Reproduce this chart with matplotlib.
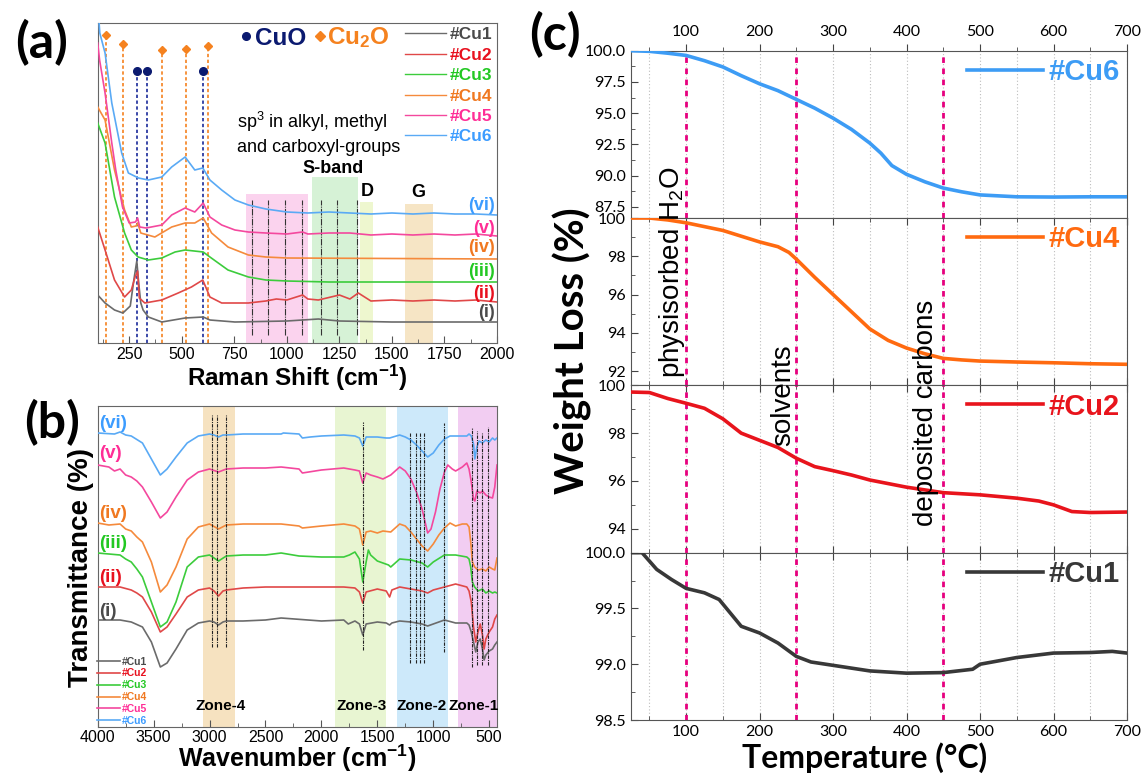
import matplotlib
matplotlib.use('Agg')
import matplotlib.pyplot as plt
from matplotlib.ticker import MultipleLocator, FormatStrFormatter
from matplotlib.font_manager import FontProperties

plt.rcParams['font.family'] = ['Liberation Sans', 'DejaVu Sans']
plt.rcParams['mathtext.fontset'] = 'custom'
plt.rcParams['mathtext.rm'] = 'Liberation Sans'
plt.rcParams['mathtext.bf'] = 'Liberation Sans:bold'
plt.rcParams['mathtext.it'] = 'Liberation Sans:italic'

# ---------------- Panel (a): Raman ----------------
sample_names = ['#Cu1', '#Cu2', '#Cu3', '#Cu4', '#Cu5', '#Cu6']
roman_labels = ['(i)', '(ii)', '(iii)', '(iv)', '(v)', '(vi)']

raman_cu1_x = [100, 135, 180, 220, 255, 272, 286, 295, 305, 316, 341, 405, 516, 602, 634, 753, 1000, 1150, 1250, 1500, 2000]
raman_cu1_y = [48, 40, 33, 30, 37, 63, 82, 60, 40, 33, 26, 21, 25, 26, 23, 21, 22, 24, 22, 21, 21]

raman_cu2_x = [100, 135, 180, 228, 260, 278, 290, 298, 324, 405, 483, 546, 600, 634, 690, 817, 900, 950, 1000, 1075, 1100,
               1150, 1250, 1300, 1340, 1400, 1500, 1600, 1700, 1800, 1900, 2000]
raman_cu2_y = [116, 93, 63, 46, 53, 66, 72, 45, 40, 43, 50, 56, 63, 46, 40, 40, 42, 44, 43, 48, 44,
               43, 48, 44, 50, 42, 43, 42, 43, 42, 43, 41]

raman_cu3_x = [100, 135, 180, 228, 260, 292, 341, 405, 468, 516, 602, 634, 720, 817, 900, 1000, 1200, 2000]
raman_cu3_y = [220, 200, 146, 110, 93, 86, 83, 85, 91, 93, 91, 86, 73, 66, 63, 62, 61, 61]

raman_cu4_x = [100, 135, 180, 228, 260, 282, 290, 305, 372, 452, 516, 562, 602, 642, 720, 817, 900, 1000, 1500, 2000]
raman_cu4_y = [236, 223, 173, 133, 116, 117, 120, 110, 106, 116, 120, 120, 125, 110, 96, 88, 86, 85, 84.5, 84]

raman_cu5_x = [100, 109, 135, 167, 186, 218, 250, 280, 290, 300, 330, 405, 452, 516, 562, 602, 634, 690, 753, 817, 900,
               1000, 1075, 1100, 1200, 1300, 1400, 1500, 1600, 1700, 1800, 1900, 2000]
raman_cu5_y = [300, 283, 250, 200, 173, 136, 120, 121, 125, 116, 115, 118, 128, 135, 131, 140, 126, 118, 113, 111, 110,
               109, 111, 109, 110, 110, 108, 109, 108, 109, 108, 109, 107]

raman_cu6_x = [100, 110, 135, 167, 214, 246, 294, 341, 405, 452, 516, 562, 600, 634, 690, 753, 817, 900, 1000, 1100, 1200,
               1300, 1400, 1500, 1600, 1700, 1800, 1900, 2000]
raman_cu6_y = [340, 310, 290, 240, 190, 170, 165, 163, 166, 176, 186, 173, 175, 163, 153, 143, 138, 134, 131, 130, 131,
               130, 129, 130, 129, 130, 129, 129, 128]

cu2o_peaks = [140, 219, 405, 519, 623]
cu2o_marker_y = [308, 299, 293, 294, 297]
cuo_peaks = [288, 333, 600]
cuo_marker_y = [272, 272, 272]
sp3_lines = [833, 909, 991, 1071, 1161, 1237, 1332]
raman_bands = [(804, 1102, 149, '#fbd3ee'), (1118, 1340, 166, '#d6f2d6'),
               (1348, 1411, 141, '#eef7cf'), (1562, 1696, 139, '#f6e5c5')]

# ---------------- Panel (b): FTIR ----------------
ftir_cu6_x = [4000, 3850, 3800, 3750, 3700, 3600, 3520, 3440, 3380, 3300, 3200, 3100, 3000, 2960, 2920, 2880, 2850, 2700,
              2500, 2360, 2340, 2200, 2170, 2100, 2000, 1800, 1700, 1660, 1630, 1600, 1500, 1420, 1390, 1300, 1250, 1200,
              1150, 1100, 1050, 1000, 950, 900, 850, 800, 700, 680, 660, 640, 628, 610, 590, 560, 530, 500, 470, 450, 430]
ftir_cu6_y = [294, 293, 295, 292, 291, 284, 268, 252, 258, 270, 284, 291, 293, 292, 290, 292, 292, 293,
              293, 293, 294, 293, 289, 290, 291, 292, 291, 289, 281, 290, 290, 289, 289, 292, 290, 287,
              282, 276, 270, 274, 282, 288, 291, 291, 291, 293, 291, 283, 268, 280, 286, 284, 287, 285, 289, 287, 289]

ftir_cu5_x = [4000, 3900, 3850, 3800, 3750, 3700, 3650, 3600, 3520, 3440, 3380, 3300, 3200, 3100, 3000, 2920, 2850, 2700,
              2500, 2360, 2200, 2170, 2000, 1800, 1700, 1660, 1630, 1600, 1560, 1500, 1450, 1380, 1300, 1250, 1200, 1150,
              1100, 1050, 1020, 980, 940, 900, 870, 830, 800, 740, 700, 680, 660, 640, 628, 610, 580, 560, 530, 500, 470,
              450, 430]
ftir_cu5_y = [262, 260, 256, 258, 252, 250, 246, 240, 225, 209, 215, 230, 247, 255, 258, 255, 258, 259,
              259, 260, 258, 254, 257, 259, 257, 256, 244, 254, 252, 250, 248, 252, 260, 256, 248, 235,
              218, 194, 198, 215, 238, 255, 262, 258, 256, 260, 264, 258, 245, 228, 226, 236, 234, 236, 232, 230, 229,
              240, 262]

ftir_cu4_x = [4000, 3900, 3800, 3750, 3700, 3650, 3600, 3520, 3440, 3380, 3300, 3200, 3100, 3000, 2920, 2850, 2700, 2500,
              2360, 2200, 2170, 2000, 1800, 1700, 1660, 1630, 1600, 1560, 1500, 1450, 1380, 1300, 1250, 1200, 1150, 1100,
              1050, 1000, 950, 900, 850, 800, 740, 700, 680, 665, 650, 630, 600, 560, 530, 500, 470, 450, 430]
ftir_cu4_y = [204, 202, 203, 198, 196, 190, 185, 165, 135, 142, 160, 188, 200, 203, 198, 202, 203, 203,
              203, 201, 199, 201, 203, 201, 198, 182, 195, 196, 194, 196, 195, 203, 201, 195, 188, 181,
              176, 183, 192, 199, 204, 201, 203, 203, 200, 185, 165, 160, 157, 158, 156, 160, 158, 157, 169]

ftir_cu3_x = [4000, 3900, 3800, 3750, 3700, 3650, 3600, 3520, 3440, 3380, 3300, 3200, 3100, 3000, 2920, 2850, 2700, 2500,
              2360, 2200, 2000, 1800, 1750, 1700, 1660, 1630, 1600, 1580, 1560, 1500, 1450, 1400, 1380, 1300, 1200, 1100,
              1050, 1000, 900, 800, 700, 680, 665, 650, 630, 600, 560, 530, 500, 470, 450, 430]
ftir_cu3_y = [174, 173, 172, 168, 165, 158, 150, 125, 100, 105, 125, 160, 170, 172, 166, 171, 172, 172,
              174, 171, 170, 170, 172, 175, 168, 145, 165, 177, 172, 166, 164, 162, 160, 168, 167, 164,
              160, 165, 172, 172, 170, 168, 160, 145, 140, 136, 138, 134, 136, 134, 135, 134]

ftir_cu2_x = [4000, 3800, 3700, 3650, 3600, 3520, 3440, 3380, 3300, 3200, 3100, 3000, 2960, 2920, 2880, 2850, 2700, 2500,
              2360, 2000, 1800, 1700, 1660, 1630, 1600, 1500, 1420, 1390, 1370, 1300, 1200, 1100, 1050, 1000, 900, 800,
              700, 680, 660, 640, 620, 600, 580, 560, 545, 530, 500, 470, 450, 430]
ftir_cu2_y = [140, 140, 137, 134, 130, 115, 95, 100, 113, 130, 137, 139, 136, 131, 136, 137, 139, 140,
              140, 140, 140, 139, 135, 124, 135, 138, 136, 130, 137, 140, 138, 136, 134, 137, 140, 143,
              140, 136, 125, 100, 85, 95, 103, 92, 78, 88, 95, 100, 108, 112]

ftir_cu1_x = [4000, 3800, 3700, 3600, 3520, 3440, 3380, 3300, 3200, 3100, 3000, 2960, 2920, 2880, 2850, 2700, 2500, 2360,
              2000, 1800, 1760, 1720, 1700, 1660, 1630, 1600, 1500, 1420, 1390, 1370, 1300, 1200, 1100, 1050, 1000, 900,
              800, 700, 680, 660, 640, 620, 600, 580, 560, 545, 530, 500, 470, 450, 430]
ftir_cu1_y = [107, 107, 105, 100, 85, 60, 64, 78, 97, 104, 106, 105, 102, 105, 106, 106, 107, 109,
              106, 107, 103, 105, 106, 103, 92, 103, 105, 104, 102, 104, 106, 105, 103, 101, 103, 107,
              104, 104, 102, 95, 85, 75, 85, 88, 78, 67, 72, 76, 78, 82, 85]

ftir_zones = [('Zone-4', 3063, 2776, '#f6e2c0'), ('Zone-3', 1874, 1423, '#e8f5d2'),
              ('Zone-2', 1322, 872, '#cde9fa'), ('Zone-1', 783, 430, '#f2cdf2')]
zone_label_x = [2905, 1640, 1100, 640]
ftir_lines_x = [2974, 2929, 2854, 1630, 1209, 1155, 1119, 1081, 902, 657, 612, 568, 509]
ftir_lines_lo = [80, 80, 80, 77, 64, 64, 64, 64, 75, 60, 62, 62, 62]
ftir_lines_hi = [312, 312, 312, 305, 295, 295, 295, 295, 304, 300, 296, 294, 300]

# ---------------- Panel (c): TGA ----------------
tga_cu6_T = [25, 50, 75, 100, 125, 150, 175, 200, 225, 250, 275, 300, 325, 350, 365, 380, 400, 425, 450, 475, 500, 550, 600, 650, 700]
tga_cu6_W = [100.0, 99.95, 99.8, 99.62, 99.2, 98.7, 98.0, 97.35, 96.8, 96.1, 95.4, 94.6, 93.7, 92.6, 91.8, 90.8, 90.1,
             89.5, 89.0, 88.7, 88.45, 88.3, 88.28, 88.3, 88.3]
tga_cu4_T = [25, 50, 75, 100, 125, 150, 175, 200, 225, 240, 250, 275, 300, 325, 350, 375, 400, 425, 450, 475, 500, 550, 600, 650, 700]
tga_cu4_W = [100.0, 100.0, 99.9, 99.75, 99.55, 99.35, 99.05, 98.75, 98.5, 98.2, 97.85, 96.9, 96.0, 95.1, 94.2, 93.6,
             93.2, 92.9, 92.66, 92.58, 92.52, 92.47, 92.43, 92.38, 92.35]
tga_cu2_T = [25, 50, 75, 100, 125, 150, 175, 200, 225, 250, 275, 300, 325, 350, 400, 450, 500, 550, 580, 600, 625, 650, 700]
tga_cu2_W = [99.72, 99.7, 99.45, 99.25, 99.04, 98.6, 98.0, 97.7, 97.4, 96.95, 96.6, 96.43, 96.25, 96.04, 95.74, 95.51,
             95.42, 95.28, 95.16, 95.0, 94.72, 94.68, 94.7]
tga_cu1_T = [25, 40, 60, 80, 100, 125, 145, 160, 175, 200, 225, 250, 270, 300, 350, 400, 450, 490, 500, 550, 600, 650, 680, 700]
tga_cu1_W = [100.0, 100.0, 99.85, 99.76, 99.68, 99.64, 99.58, 99.46, 99.34, 99.28, 99.19, 99.07, 99.02, 98.99, 98.94,
             98.92, 98.925, 98.955, 99.0, 99.06, 99.1, 99.105, 99.115, 99.1]
tga_event_T = [100, 250, 450]
tga_event_labels = ['physisorbed H$_2$O', 'solvents', 'deposited carbons']

# ---------------- styling ----------------
line_cols = ['#6b6b6b', '#e04848', '#3ccc3c', '#f58a3c', '#f4489e', '#5aaaf5']
text_cols = ['#4a4a4a', '#e8101e', '#22c822', '#f07820', '#ff2d96', '#3c9cff']

W, H = 1141, 775
fig = plt.figure(figsize=(W / 100, H / 100), dpi=100)


def px_rect(l, t, r, b):
    return [l / W, 1 - b / H, (r - l) / W, (b - t) / H]


# ===== Panel (a) =====
axA = fig.add_axes(px_rect(97.7, 23, 497, 343))
axA.set_xlim(100, 2000)
axA.set_ylim(0, 320)
for x0, x1, top, c in raman_bands:
    axA.fill_between([x0, x1], 0, top, color=c, lw=0, zorder=0)
axA.vlines(sp3_lines, 8, 143, colors='#333333', lw=0.8, linestyles=(0, (6, 1, 1, 1)), zorder=1)
for xp, yp in zip(cu2o_peaks, cu2o_marker_y):
    axA.plot([xp, xp], [0, yp], color='#f5821f', lw=1.2, ls=(0, (2, 1.5)), zorder=2)
    axA.plot([xp], [yp], marker='D', color='#f5821f', ms=4.5, zorder=5)
for xp, yp in zip(cuo_peaks, cuo_marker_y):
    axA.plot([xp, xp], [0, yp], color='#1a2a9a', lw=1.2, ls=(0, (2, 1.5)), zorder=2)
    axA.plot([xp], [yp], marker='o', color='#0b1a70', ms=5.5, zorder=5)

raman_x = [raman_cu1_x, raman_cu2_x, raman_cu3_x, raman_cu4_x, raman_cu5_x, raman_cu6_x]
raman_y = [raman_cu1_y, raman_cu2_y, raman_cu3_y, raman_cu4_y, raman_cu5_y, raman_cu6_y]
handlesA = []
for xs, ys, c in zip(raman_x, raman_y, line_cols):
    h, = axA.plot(xs, ys, color=c, lw=1.2, zorder=3)
    handlesA.append(h)
legA = axA.legend(handlesA, sample_names, loc='upper right', frameon=False,
                  prop=FontProperties(family='Liberation Sans', weight='bold', size=12.5),
                  labelcolor=text_cols, handlelength=2.35, handletextpad=0.25, labelspacing=0.3,
                  borderpad=0.1, borderaxespad=0.15)
for lh in legA.legend_handles:
    lh.set_linewidth(1.0)

roman_y_a = [0.094, 0.156, 0.222, 0.297, 0.359, 0.431]
for lab, yy, c in zip(roman_labels, roman_y_a, text_cols):
    axA.text(0.995, yy, lab, transform=axA.transAxes, ha='right', va='center', color=c,
             fontsize=13, fontweight='bold')

axA.plot([0.371], [0.959], marker='o', color='#0b1a70', ms=5.5, transform=axA.transAxes, clip_on=False)
axA.text(0.395, 0.953, 'CuO', transform=axA.transAxes, color='#0b1a70', fontsize=17.5, fontweight='bold', va='center')
axA.plot([0.557], [0.959], marker='D', color='#f5821f', ms=5.5, transform=axA.transAxes, clip_on=False)
axA.text(0.574, 0.953, r'Cu$_\mathbf{2}$O', transform=axA.transAxes, color='#f5821f', fontsize=17.5,
         fontweight='bold', va='center')
axA.text(0.349, 0.69, r'sp$^3$ in alkyl, methyl', transform=axA.transAxes, fontsize=13, va='center')
axA.text(0.349, 0.61, 'and carboxyl-groups', transform=axA.transAxes, fontsize=13, va='center')
axA.text(0.589, 0.544, 'S-band', transform=axA.transAxes, fontsize=13, fontweight='bold', ha='center', va='center')
axA.text(0.675, 0.472, 'D', transform=axA.transAxes, fontsize=13, fontweight='bold', ha='center', va='center')
axA.text(0.803, 0.469, 'G', transform=axA.transAxes, fontsize=13, fontweight='bold', ha='center', va='center')

axA.set_yticks([])
axA.xaxis.set_major_locator(MultipleLocator(250))
axA.xaxis.set_minor_locator(MultipleLocator(125))
axA.tick_params(axis='x', which='both', direction='in', labelsize=11.5, color='#555555', pad=3)
axA.tick_params(axis='x', which='major', length=5)
axA.tick_params(axis='x', which='minor', length=3)
axA.set_xticks([250, 500, 750, 1000, 1250, 1500, 1750, 2000])
for s in axA.spines.values():
    s.set_color('#666666')

fig.text(0.2603, 1 - 386 / H, r'Raman Shift (cm$^\mathbf{-1}$)', ha='center', va='baseline', fontsize=17.5,
         fontweight='bold')

# ===== Panel (b) =====
axB = fig.add_axes(px_rect(97.7, 406, 497, 727))
axB.set_xlim(4000, 430)
axB.set_ylim(0, 321)
for (name, x0, x1, c), lx in zip(ftir_zones, zone_label_x):
    axB.axvspan(x0, x1, color=c, lw=0, zorder=0)
    axB.text(lx, 21, name, ha='center', va='center', fontsize=11, fontweight='bold', zorder=6)
axB.vlines(ftir_lines_x, ftir_lines_lo, ftir_lines_hi, colors='#222222', lw=0.8,
           linestyles=(0, (3, 1, 1, 1)), zorder=4)
ftir_x = [ftir_cu1_x, ftir_cu2_x, ftir_cu3_x, ftir_cu4_x, ftir_cu5_x, ftir_cu6_x]
ftir_y = [ftir_cu1_y, ftir_cu2_y, ftir_cu3_y, ftir_cu4_y, ftir_cu5_y, ftir_cu6_y]
handlesB = []
for xs, ys, c in zip(ftir_x, ftir_y, line_cols):
    h, = axB.plot(xs, ys, color=c, lw=1.2, zorder=3)
    handlesB.append(h)
legB = axB.legend(handlesB, sample_names, loc='lower left', frameon=False,
                  prop=FontProperties(family='Liberation Sans', weight='bold', size=7.5),
                  labelcolor=text_cols, handlelength=2.2, handletextpad=0.2, labelspacing=0.18,
                  borderpad=0.0, borderaxespad=0.1, bbox_to_anchor=(-0.005, 0.0))
roman_pos_b = [(612, 3985), (578, 3990), (543, 3985), (513, 3985), (453, 3990), (423, 3985)]
for lab, (ypx, xv), c in zip(roman_labels, roman_pos_b, text_cols):
    axB.text(xv, 727 - ypx, lab, ha='left', va='center', color=c, fontsize=13.5, fontweight='bold')

axB.set_yticks([])
axB.xaxis.set_major_locator(MultipleLocator(500))
axB.xaxis.set_minor_locator(MultipleLocator(250))
axB.tick_params(axis='x', which='both', direction='in', labelsize=11.5, color='#555555', pad=2)
axB.tick_params(axis='x', which='major', length=5)
axB.tick_params(axis='x', which='minor', length=3)
for s in axB.spines.values():
    s.set_color('#666666')
fig.text(0.2603, 1 - 767 / H, r'Wavenumber (cm$^\mathbf{-1}$)', ha='center', va='baseline', fontsize=18,
         fontweight='bold')
fig.text(0.071, 0.268, 'Transmittance (%)', ha='center', va='center', rotation=90, fontsize=20, fontweight='bold')

# ===== Panel (c) =====
gs = fig.add_gridspec(4, 1, left=631 / W, right=1127 / W, top=1 - 50.7 / H, bottom=1 - 720 / H, hspace=0)
axC = [fig.add_subplot(gs[i]) for i in range(4)]
tga_T = [tga_cu6_T, tga_cu4_T, tga_cu2_T, tga_cu1_T]
tga_W = [tga_cu6_W, tga_cu4_W, tga_cu2_W, tga_cu1_W]
tga_names = ['#Cu6', '#Cu4', '#Cu2', '#Cu1']
tga_cols = ['#3d9cf5', '#ff6a10', '#e8141c', '#383838']
tga_ylims = [(86.6, 100.0), (91.25, 100.0), (93.0, 100.0), (98.5, 100.0)]
tga_yticks = [[87.5, 90.0, 92.5, 95.0, 97.5, 100.0], [92, 94, 96, 98, 100], [94, 96, 98, 100],
              [98.5, 99.0, 99.5, 100.0]]
tga_fmt = ['%.1f', '%d', '%d', '%.1f']
tga_minor = [1.25, 1.0, 1.0, 0.25]
lato = 'Lato'
for i, ax in enumerate(axC):
    ax.set_xlim(25, 700)
    ax.set_ylim(*tga_ylims[i])
    ax.xaxis.set_major_locator(MultipleLocator(100))
    ax.xaxis.set_minor_locator(MultipleLocator(50))
    ax.grid(axis='x', which='both', ls=(0, (1, 2)), color='#bdbdbd', lw=0.8)
    for tv in tga_event_T:
        ax.axvline(tv, color='#e6007e', ls=(0, (2, 2)), lw=2, zorder=2)
    h, = ax.plot(tga_T[i], tga_W[i], color=tga_cols[i], lw=2.6, zorder=3)
    ax.legend([h], [tga_names[i]], loc='upper right', frameon=False,
              prop=FontProperties(family='Liberation Sans', weight='bold', size=21),
              labelcolor=tga_cols[i], handlelength=2.6, handletextpad=0.2, borderpad=0.1, borderaxespad=0.15)
    ax.set_yticks(tga_yticks[i])
    ax.yaxis.set_major_formatter(FormatStrFormatter(tga_fmt[i]))
    ax.yaxis.set_minor_locator(MultipleLocator(tga_minor[i]))
    ax.tick_params(axis='both', which='both', direction='in', color='#444444')
    ax.tick_params(axis='x', which='both', top=True, bottom=True, labelbottom=False, labeltop=False)
    ax.tick_params(axis='both', which='major', length=5, labelsize=11.5)
    ax.tick_params(axis='both', which='minor', length=3)
    for lab in ax.get_yticklabels() + ax.get_xticklabels():
        lab.set_fontfamily(lato)
    for s in ax.spines.values():
        s.set_color('#555555')
axC[0].tick_params(axis='x', which='both', labeltop=True, direction='out')
axC[-1].tick_params(axis='x', which='both', labelbottom=True)
for ax in (axC[0], axC[-1]):
    for lab in ax.get_xticklabels():
        lab.set_fontfamily(lato)

fig.text(0.589, 0.649, tga_event_labels[0], rotation=90, ha='center', va='center', fontsize=20)
fig.text(0.686, 0.490, tga_event_labels[1], rotation=90, ha='center', va='center', fontsize=20)
fig.text(0.8116, 0.467, tga_event_labels[2], rotation=90, ha='center', va='center', fontsize=20)

fig.text(0.502, 0.548, 'Weight Loss (%)', rotation=90, ha='center', va='center', fontsize=29,
         fontweight='bold', family=lato)
fig.text(0.758, 1 - 768 / H, 'Temperature (°C)', ha='center', va='baseline', fontsize=23, fontweight='bold',
         family=lato)

fig.text(0.036, 0.945, '(a)', ha='center', va='center', fontsize=36, fontweight='bold', family=lato)
fig.text(0.046, 0.455, '(b)', ha='center', va='center', fontsize=36, fontweight='bold', family=lato)
fig.text(0.486, 0.956, '(c)', ha='center', va='center', fontsize=36, fontweight='bold', family=lato)

fig.savefig('out.png', dpi=100)
